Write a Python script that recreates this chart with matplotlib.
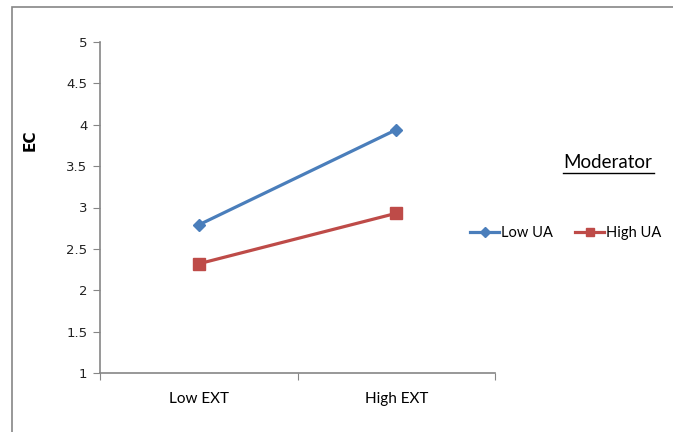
import matplotlib.pyplot as plt
from matplotlib.lines import Line2D
from matplotlib.patches import Rectangle

# data
categories = ['Low EXT', 'High EXT']
low_ua = [2.79, 3.94]
high_ua = [2.32, 2.93]
series_names = ['Low UA', 'High UA']

W, H = 673, 432
fig = plt.figure(figsize=(W / 100, H / 100), dpi=100)
ax = fig.add_axes([100 / W, 1 - 373 / H, 395 / W, 331 / H])

grey = '#868686'
blue = '#4A7EBB'
red = '#BE4B48'
font = ['Lato', 'DejaVu Sans']

x = [0.5, 1.5]
ax.plot(x, low_ua, color=blue, lw=2.3, marker='D', ms=6.5, label=series_names[0])
ax.plot(x, high_ua, color=red, lw=2.3, marker='s', ms=8, label=series_names[1])

ax.set_xlim(0, 2)
ax.set_ylim(1, 5)
ax.set_yticks([1, 1.5, 2, 2.5, 3, 3.5, 4, 4.5, 5])
ax.set_yticklabels(['1', '1.5', '2', '2.5', '3', '3.5', '4', '4.5', '5'])
ax.tick_params(axis='y', length=5, color=grey, labelsize=9.5, pad=4, labelcolor='#222222')

ax.set_xticks([0, 1, 2])
ax.set_xticklabels(['', '', ''])
ax.set_xticks(x, minor=True)
ax.set_xticklabels(categories, minor=True, fontfamily=font, fontsize=11)
ax.tick_params(axis='x', which='major', length=5, color=grey)
ax.tick_params(axis='x', which='minor', length=0, pad=14)

for s in ['top', 'right']:
    ax.spines[s].set_visible(False)
for s in ['left', 'bottom']:
    ax.spines[s].set_color(grey)
    ax.spines[s].set_linewidth(1.2)

fig.text(30 / W, 1 - 140 / H, 'EC', rotation=90, fontsize=11, fontweight='heavy',
         ha='center', va='center', family=['DejaVu Sans'])

# legend title with underline
fig.text(608 / W, 1 - 163 / H, 'Moderator', fontsize=13.5, ha='center', va='center', family=font)
fig.add_artist(Line2D([563 / W, 654 / W], [1 - 173 / H, 1 - 173 / H], color='black', lw=1))

fig.legend(loc='center left', bbox_to_anchor=(470 / W, 1 - 233 / H), ncol=2, frameon=False,
           prop={'family': font, 'size': 10.5}, handlelength=2.0, handletextpad=0.15,
           columnspacing=1.5, borderaxespad=0, borderpad=0, markerscale=0.8)

# chart frame
fig.add_artist(Rectangle((12 / W, -0.1), 1.2, 1.1 - 7.5 / H, transform=fig.transFigure,
                         fill=False, edgecolor=grey, lw=1.2))

fig.savefig('out.png', dpi=100)
